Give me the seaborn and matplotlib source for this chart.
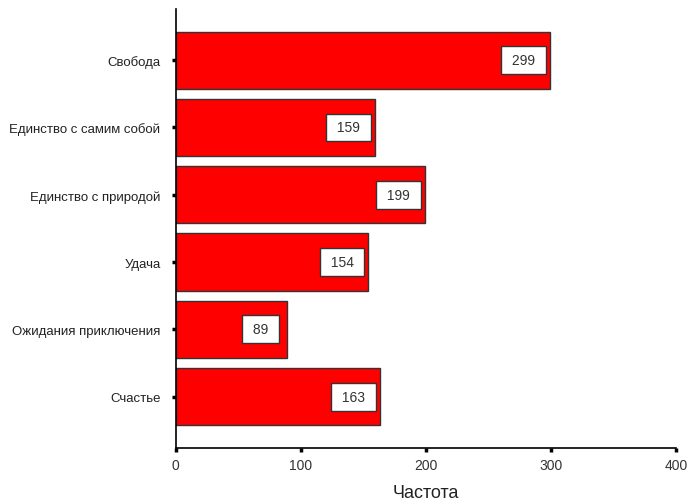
import matplotlib
matplotlib.use("Agg")
import matplotlib.pyplot as plt
import pandas as pd
import seaborn as sns

categories = ["Свобода", "Единство с самим собой", "Единство с природой",
              "Удача", "Ожидания приключения", "Счастье"]
counts = [299, 159, 199, 154, 89, 163]
x_ticks = [0, 100, 200, 300, 400]

df = pd.DataFrame({"category": categories, "count": counts})

sns.set_style("white")
plt.rcParams["font.family"] = ["Liberation Sans", "DejaVu Sans"]

fig = plt.figure(figsize=(6.92, 5.02), dpi=100)
ax = fig.add_axes([0.254, 0.106, 0.723, 0.874])

sns.barplot(data=df, x="count", y="category", orient="h", color="#ff0000",
            saturation=1, width=0.85, edgecolor="#333333", linewidth=1, ax=ax)

for i, v in enumerate(counts):
    ax.annotate(f" {v} ", xy=(v, i), xytext=(-19, 0), textcoords="offset points",
                ha="center", va="center", fontsize=10, color="#333333",
                bbox=dict(boxstyle="square,pad=0.5", fc="white", ec="#333333", lw=1))

ax.set_xlim(0, 400)
ax.set_ylim(5.76, -0.76)
ax.set_xticks(x_ticks)
ax.tick_params(axis="x", bottom=True, length=3, width=2.5, labelsize=10, pad=4,
               color="black", labelcolor="#333333")
ax.tick_params(axis="y", left=True, length=3, width=2.5, labelsize=9.5, pad=8,
               color="black", labelcolor="#222222")
ax.set_xlabel("Частота", fontsize=13, labelpad=9, color="#222222")
ax.set_ylabel("")
sns.despine(ax=ax)
for s in ["left", "bottom"]:
    ax.spines[s].set_color("black")
    ax.spines[s].set_linewidth(1.2)

fig.savefig("out.png", dpi=100)
